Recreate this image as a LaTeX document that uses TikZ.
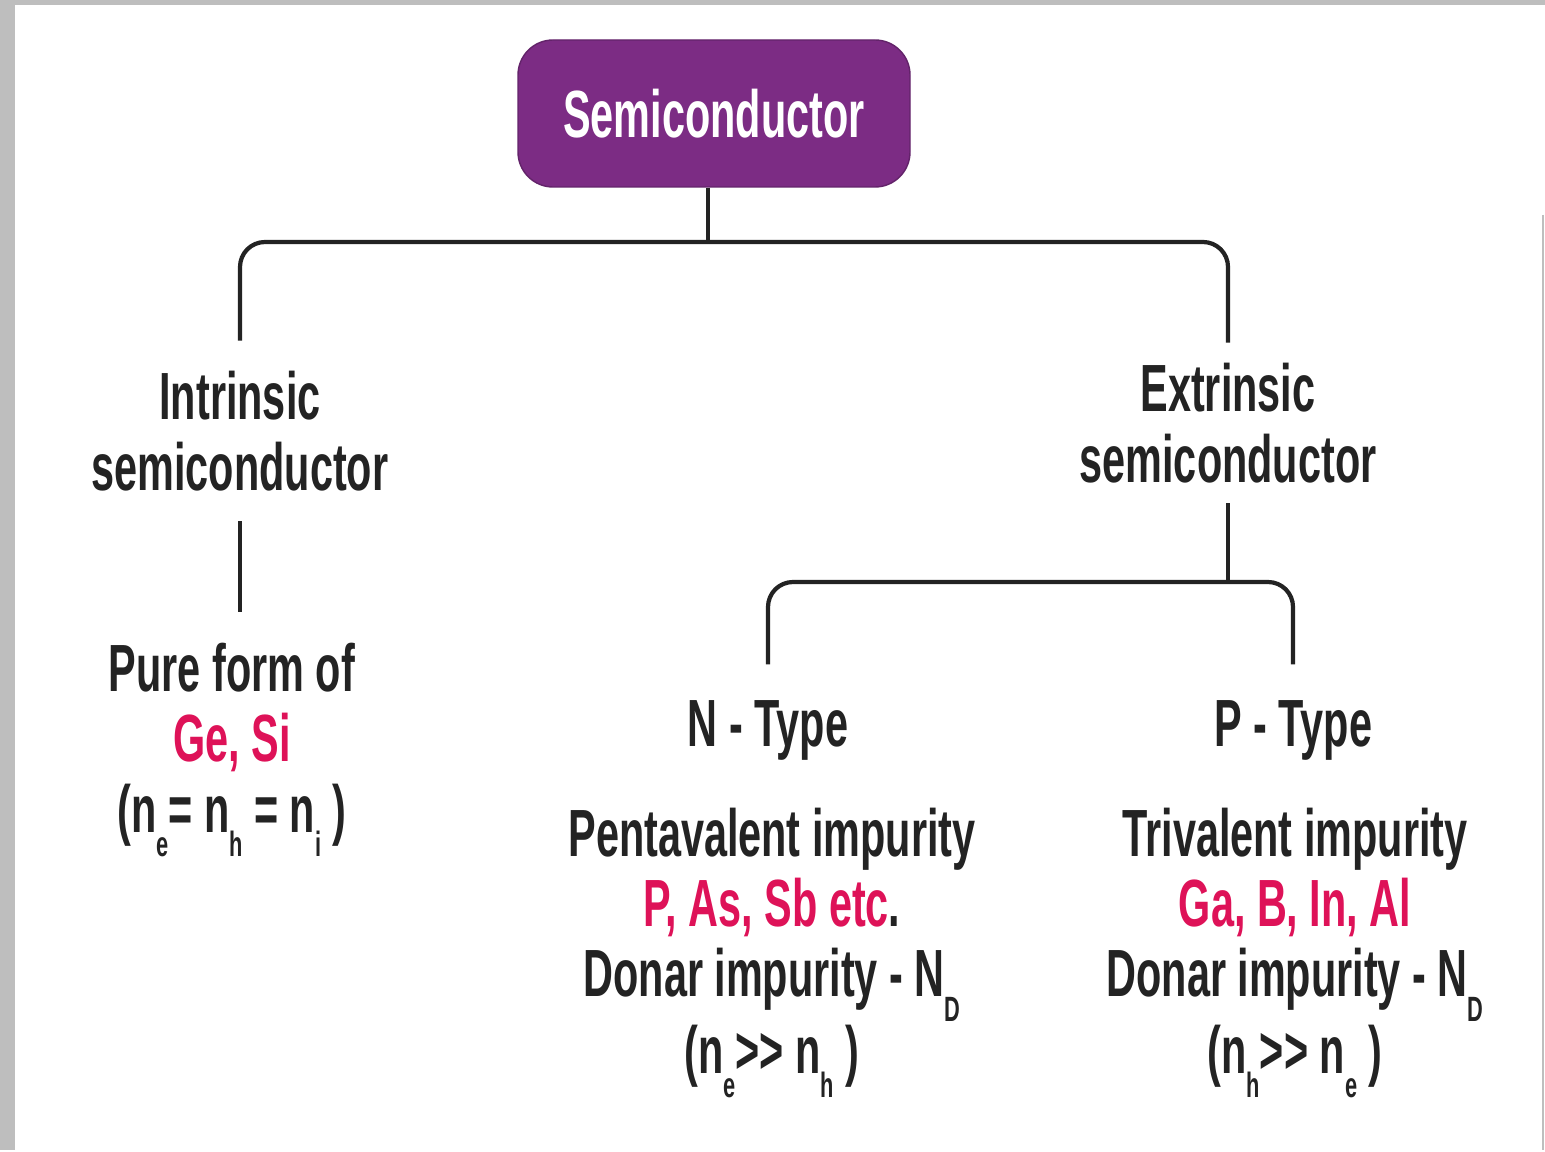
\documentclass[tikz,border=0pt]{standalone}
\usepackage{fontspec}
\setmainfont[FakeStretch=0.62]{Liberation Sans}
\usepackage{tikz}

\definecolor{framegray}{RGB}{190,190,190}
\definecolor{semipurple}{RGB}{124,44,132}
\definecolor{elempink}{RGB}{222,18,88}
\definecolor{inkgray}{RGB}{35,35,35}
\newcommand\lowsub[1]{\raisebox{-7pt}{\fontsize{10}{10}\selectfont #1}}
\newcommand\muchgt{>\kern0pt>}

\tikzset{
  link/.style={draw=inkgray, line width=1.2pt, rounded corners=0.25cm},
  txt/.style={text=inkgray, align=center, inner sep=0.3cm,
    font=\bfseries\fontsize{19}{20}\selectfont}
}

\begin{document}
\begin{tikzpicture}
% frame of the page
\fill[framegray] (0,0) rectangle (15.45,-11.50);
\fill[white] (0.15,-0.05) rectangle (15.45,-11.50);
\draw[framegray, line width=0.6pt] (15.43,-2.15) -- (15.43,-11.50);
\useasboundingbox (0,0) rectangle (15.45,-11.50);

\node (semi) at (7.14,-1.135) [fill=semipurple, draw=semipurple!80!black,
  rounded corners=0.35cm, minimum width=3.92cm, minimum height=1.47cm,
  text=white, font=\bfseries\fontsize{19}{20}\selectfont] {Semiconductor};

\node[txt] (intr) at (2.40,-4.31) {Intrinsic\\semiconductor};
\node[txt] (pure) at (2.32,-7.50) {Pure form of\\
  \textcolor{elempink}{Ge, Si}\\
  (n\lowsub{e}= n\lowsub{h} = n\lowsub{i} )};

\node[txt, inner sep=0.2cm] (extr) at (12.28,-4.23) {Extrinsic\\semiconductor};
\node[txt, inner sep=0.35cm] (ntype) at (7.68,-7.30) {N - Type};
\node[txt, inner sep=0.35cm] (ptype) at (12.93,-7.30) {P - Type};

\node[txt] (penta) at (7.72,-9.53) {Pentavalent impurity\\
  \textcolor{elempink}{P, As, Sb etc}.\\
  Donar impurity - N\lowsub{D}\\
  (n\lowsub{e}\muchgt{} n\lowsub{h} )};
\node[txt] (tri) at (12.95,-9.53) {Trivalent impurity\\
  \textcolor{elempink}{Ga, B, In, Al}\\
  Donar impurity - N\lowsub{D}\\
  (n\lowsub{h}\muchgt{} n\lowsub{e} )};

% connectors
\coordinate (bar1) at (7.08,-2.42);
\coordinate (bar2) at (12.28,-5.82);
\draw[link] ([xshift=-0.06cm]semi.south) -- ([xshift=-0.06cm]semi.south |- bar1);
\draw[link] (intr.north) |- (bar1) -| (extr.north);
\draw[link] (intr.south) -- (intr.south |- pure.north);
\draw[link] (extr.south) -- (bar2);
\draw[link] (ntype.north) |- (bar2) -| (ptype.north);
\end{tikzpicture}
\end{document}
